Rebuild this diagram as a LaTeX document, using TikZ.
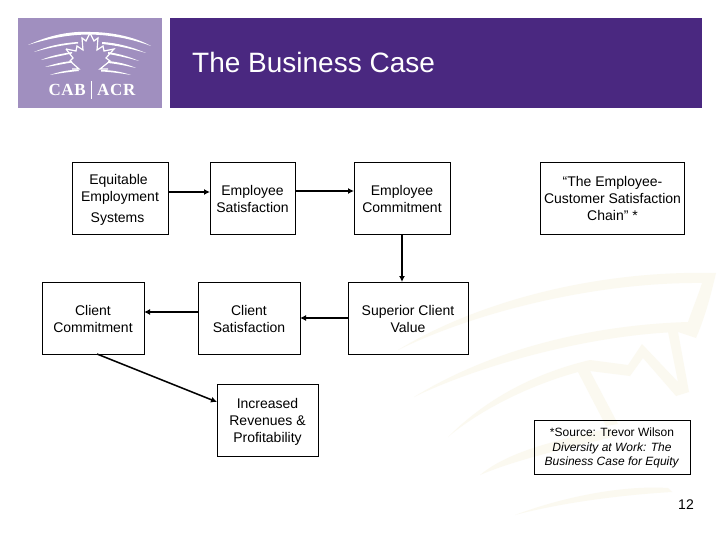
\documentclass[tikz,border=0pt]{standalone}
\usepackage{fontspec}
\setmainfont{Liberation Sans}
\newfontfamily\logofont[LetterSpace=4]{Liberation Serif}
\definecolor{hdr}{HTML}{4A2880}
\definecolor{logobg}{HTML}{A08FBF}
\definecolor{wm}{HTML}{FBF9F0}
\usetikzlibrary{arrows.meta}
\newcommand{\topgap}[1]{\rule{0pt}{#1}}
\tikzset{
 box/.style={draw=black,line width=0.8pt,fill=none,inner sep=0pt,outer sep=0pt,align=center,font=\fontsize{14}{17}\selectfont},
 conn/.style={-{Latex[length=6pt,width=6pt]},line width=1.5pt,black},
 wmark/.style={fill=wm,draw=none},
 lg/.style={fill=white,draw=none}
}
\begin{document}
\begin{tikzpicture}[x=1pt,y=-1pt]
\useasboundingbox (0,0) rectangle (720,540);
\fill[white] (0,0) rectangle (720,540);
% watermark
\fill[wmark] (398,350) .. controls (480,300) and (600,270) .. (716,273) .. controls (712,290) and (706,315) .. (696,338) .. controls (690,336) and (684,334) .. (678,332) .. controls (590,335) and (480,365) .. (414,397) .. controls (490,350) and (590,325) .. (688,322) .. controls (692,310) and (698,296) .. (702,283) .. controls (600,282) and (480,310) .. (398,350) -- cycle;
\fill[wmark] (678,332) -- (689,392) -- (676,396) -- (643,358) -- (630,376) -- (590,371) -- (618,424) -- (606,426) -- (578,372) .. controls (530,385) and (480,410) .. (448,437) .. controls (490,395) and (540,372) .. (590,360) -- (628,365) -- (642,344) -- (678,382) -- (668,332) -- cycle;
\fill[wmark] (480,475) .. controls (510,450) and (560,440) .. (610,428) -- (612,437) .. controls (570,448) and (520,458) .. (480,475) -- cycle;
\fill[wmark] (515,515) .. controls (560,498) and (620,485) .. (668,488) -- (672,492) .. controls (620,495) and (560,503) .. (515,515) -- cycle;
% header
\fill[logobg] (18,18) rectangle (162,108);
\fill[hdr] (170,18) rectangle (702,108);
\node[anchor=base west,inner sep=0pt,text=white,font=\fontsize{28}{32}\selectfont] (title) at (192,73) {The Business Case};
% logo
\fill[lg] (28,45) .. controls (50,35) and (70,31) .. (90,32) .. controls (112,32) and (135,37) .. (151,46) .. controls (132,39) and (112,35) .. (90,34.5) .. controls (70,34.5) and (50,38) .. (28,45) -- cycle;
\fill[lg] (34,52) .. controls (48,46) and (62,43) .. (78,42) -- (78,43.5) .. controls (62,45) and (48,48) .. (34,52) -- cycle;
\fill[lg] (102,42) .. controls (118,43) and (132,47) .. (146,53) .. controls (132,49) and (118,45.5) .. (102,44) -- cycle;
\fill[lg] (41,60) .. controls (50,56) and (60,54) .. (72,52) -- (72,53.5) .. controls (60,56) and (50,58) .. (41,60) -- cycle;
\fill[lg] (108,52) .. controls (120,54) and (130,57) .. (139,61) .. controls (130,58.5) and (120,56) .. (108,54) -- cycle;
\fill[lg] (45,67) .. controls (54,64) and (62,62) .. (72,61) -- (72,62.5) .. controls (62,64) and (54,66) .. (45,67) -- cycle;
\fill[lg] (108,61) .. controls (118,62) and (127,64) .. (136,68) .. controls (127,66) and (118,64) .. (108,63) -- cycle;
\fill[lg] (50,75) .. controls (58,72) and (68,70) .. (78,69.5) -- (79,71) .. controls (68,72) and (58,73.5) .. (50,75) -- cycle;
\fill[lg] (101,70) .. controls (112,70) and (122,72) .. (131,75) .. controls (122,73.5) and (112,72) .. (101,71.5) -- cycle;
\draw[white,line width=1.2pt,line join=miter] (66,49) -- (76,51) -- (77,46) -- (83,50) -- (82,38) -- (86,41) -- (90,33) -- (94,41) -- (98,38) -- (97,50) -- (103,46) -- (104,51) -- (114,49) -- (106,58) -- (110,61) -- (100,69) -- (108,69);
\draw[white,line width=1.2pt,line join=miter] (66,49) -- (73,58) -- (70,61) -- (79,69) -- (72,69);
\node[text=white,inner sep=0pt,font=\logofont\bfseries\fontsize{17}{17}\selectfont,anchor=base east] (cab) at (86,96) {CAB};
\node[text=white,inner sep=0pt,font=\logofont\bfseries\fontsize{17}{17}\selectfont,anchor=base west] (acr) at (97,96) {ACR};
\draw[white,line width=0.6pt] (91,81) -- (91,99);
% boxes
\node[box,minimum width=96pt,minimum height=72pt] (eq) at (120,198) {\topgap{14.5pt}Equitable\hspace*{3pt}\\Employment\\[4pt]Systems\hspace*{5pt}};
\node[box,minimum width=85pt,minimum height=72pt] (es) at (252.5,198) {\topgap{12.5pt}Employee\\Satisfaction};
\node[box,minimum width=96pt,minimum height=72pt] (ec) at (402,198) {\topgap{12.5pt}Employee\\Commitment};
\node[box,minimum width=144.5pt,minimum height=72pt] (chain) at (612.5,198) {“The Employee-\\Customer Satisfaction\\Chain” *};
\node[box,minimum width=102pt,minimum height=72pt] (cc) at (93,318) {\topgap{12.5pt}Client\\Commitment};
\node[box,minimum width=102pt,minimum height=72pt] (cs) at (249,318) {\topgap{12.5pt}Client\\Satisfaction};
\node[box,minimum width=120pt,minimum height=72pt] (sv) at (408,318) {\topgap{12.5pt}Superior Client\\Value};
\node[box,minimum width=101pt,minimum height=72pt] (ir) at (267.5,420) {\topgap{14.5pt}Increased\\Revenues \&\\Profitability};
\node[box,minimum width=156pt,minimum height=54pt,font=\fontsize{12}{14.5}\selectfont] (src) at (612,447) {\topgap{11pt}*Source: Trevor Wilson\\\textit{Diversity at Work: The}\\\textit{Business Case for Equity}};
\node[anchor=base east,inner sep=0pt,font=\fontsize{14}{17}\selectfont] (pg) at (694,509) {12};
% connectors
\draw[conn] ([yshift=6pt]eq.east) -- ([yshift=6pt]es.west);
\draw[conn] ([yshift=7pt]es.east) -- ([yshift=7pt]ec.west);
\draw[conn] (ec.south) -- (ec.south |- sv.north);
\draw[conn] (sv.west) -- (cs.east);
\draw[conn] ([yshift=6pt]cs.west) -- ([yshift=6pt]cc.east);
\draw[conn] (cc.south) ++(4pt,0) -- ([yshift=18pt]ir.west);
\end{tikzpicture}
\end{document}
